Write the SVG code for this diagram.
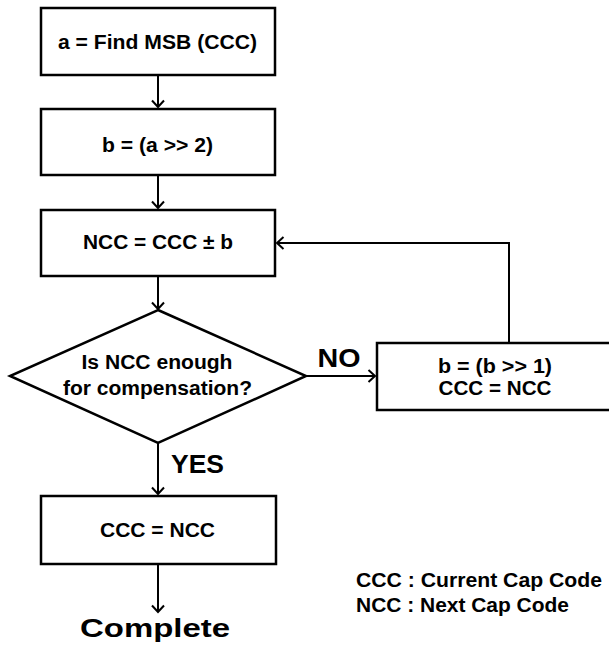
<svg xmlns="http://www.w3.org/2000/svg" width="609" height="646" viewBox="0 0 609 646">
<defs>
<style>
.box{fill:#fff;stroke:#000;stroke-width:2.5}
.t{font-family:"Liberation Sans",Arial,sans-serif;font-weight:bold;fill:#000;text-anchor:middle}
.s{font-size:20px}
.b{font-size:26px}
.lg{font-family:"Liberation Sans",Arial,sans-serif;font-weight:bold;fill:#000;font-size:19.5px}
.c{fill:none;stroke:#000;stroke-width:2}
</style>
<marker id="ah" markerUnits="userSpaceOnUse" markerWidth="20" markerHeight="20" viewBox="-10 -10 20 20" refX="0" refY="0" orient="auto">
<path d="M-6.5,-6 L0,0 L-6.5,6" fill="none" stroke="#000" stroke-width="2"/>
</marker>
</defs>
<rect width="609" height="646" fill="#fff"/>
<g id="connectors">
<line class="c" x1="158" y1="75" x2="158" y2="107" marker-end="url(#ah)"/>
<line class="c" x1="158" y1="175" x2="158" y2="208" marker-end="url(#ah)"/>
<line class="c" x1="158" y1="276" x2="158" y2="309" marker-end="url(#ah)"/>
<line class="c" x1="158" y1="443" x2="158" y2="494" marker-end="url(#ah)"/>
<line class="c" x1="158" y1="564" x2="158" y2="612" marker-end="url(#ah)"/>
<line class="c" x1="306" y1="376" x2="375" y2="376" marker-end="url(#ah)"/>
<polyline class="c" points="509,343 509,243 277,243" marker-end="url(#ah)"/>
<text class="t b" x="339" y="367" textLength="43" lengthAdjust="spacingAndGlyphs">NO</text>
<text class="t b" x="197.5" y="473" textLength="53" lengthAdjust="spacingAndGlyphs">YES</text>
</g>
<g id="n1">
<rect class="box" x="41" y="8" width="234" height="67"/>
<text class="t s" x="157.5" y="49" textLength="199" lengthAdjust="spacingAndGlyphs">a = Find MSB (CCC)</text>
</g>
<g id="n2">
<rect class="box" x="41" y="109" width="234" height="66"/>
<text class="t s" x="157.5" y="152" textLength="111" lengthAdjust="spacingAndGlyphs">b = (a &gt;&gt; 2)</text>
</g>
<g id="n3">
<rect class="box" x="41" y="210" width="234" height="66"/>
<text class="t s" x="158" y="249" textLength="150" lengthAdjust="spacingAndGlyphs">NCC = CCC ± b</text>
</g>
<g id="n4">
<polygon class="box" points="158,310 306,376 158,443 10,376"/>
<text class="t s" x="157" y="369" textLength="151" lengthAdjust="spacingAndGlyphs">Is NCC enough</text>
<text class="t s" x="157.5" y="395" textLength="189" lengthAdjust="spacingAndGlyphs">for compensation?</text>
</g>
<g id="n5">
<rect class="box" x="377" y="343" width="236" height="67"/>
<text class="t s" x="495" y="373" textLength="114" lengthAdjust="spacingAndGlyphs">b = (b &gt;&gt; 1)</text>
<text class="t s" x="495" y="395" textLength="113" lengthAdjust="spacingAndGlyphs">CCC = NCC</text>
</g>
<g id="n6">
<rect class="box" x="41" y="496" width="235" height="68"/>
<text class="t s" x="157.5" y="537" textLength="115" lengthAdjust="spacingAndGlyphs">CCC = NCC</text>
</g>
<g id="n7">
<text class="t b" x="155" y="637" textLength="150" lengthAdjust="spacingAndGlyphs">Complete</text>
</g>
<g id="legend">
<text class="lg" x="356" y="587" textLength="246" lengthAdjust="spacingAndGlyphs">CCC : Current Cap Code</text>
<text class="lg" x="356" y="612" textLength="213" lengthAdjust="spacingAndGlyphs">NCC : Next Cap Code</text>
</g>
</svg>
